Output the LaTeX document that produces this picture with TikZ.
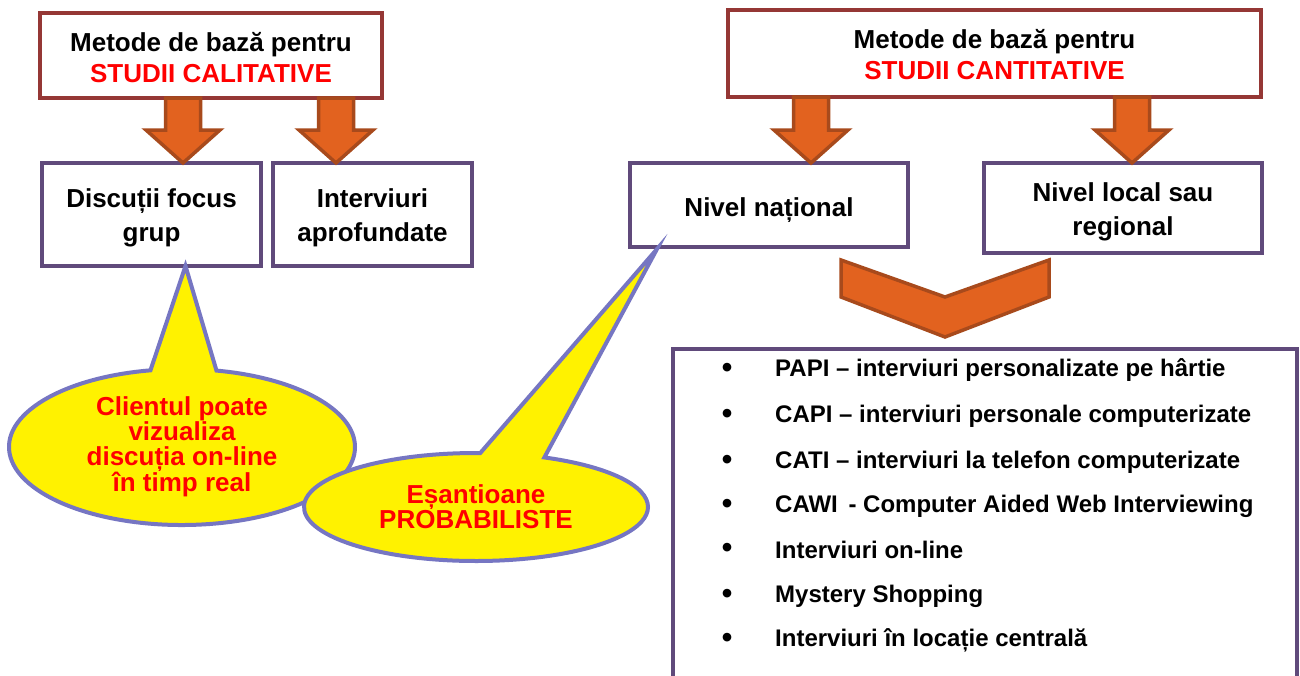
\documentclass[tikz,border=0pt]{standalone}
\usepackage{fontspec}
\setmainfont{Liberation Sans}
\usetikzlibrary{shapes.callouts,calc}
\definecolor{titleborder}{HTML}{953735}
\definecolor{boxborder}{HTML}{604A7B}
\definecolor{arrowfill}{HTML}{E2621F}
\definecolor{arrowborder}{HTML}{A84A1C}
\definecolor{calloutborder}{HTML}{7676C2}
\definecolor{txtred}{HTML}{FF0000}
\newcommand\downblock[2]{%
  \draw[blockarrow] let \p1=#1, \p2=#2 in
    (\x1-17.5pt,\y1) -- (\x1+17.5pt,\y1) -- (\x1+17.5pt,\y2+33pt) -- (\x1+37pt,\y2+33pt)
    -- (\x1,\y2) -- (\x1-37pt,\y2+33pt) -- (\x1-17.5pt,\y2+33pt) -- cycle;}
\begin{document}
\begin{tikzpicture}[x=1pt,y=-1pt,
  titlebox/.style={draw=titleborder,line width=4pt,fill=white,inner sep=0pt,outer sep=0pt},
  levelbox/.style={draw=boxborder,line width=4pt,fill=white,inner sep=0pt,outer sep=0pt},
  titletext/.style={inner sep=0pt,align=center,font=\fontsize{26}{31}\selectfont\bfseries},
  leveltext/.style={inner sep=0pt,align=center,font=\fontsize{26}{34}\selectfont\bfseries},
  blockarrow/.style={draw=arrowborder,fill=arrowfill,line width=3.5pt,line join=miter},
  bubble/.style={ellipse callout,draw=calloutborder,line width=4pt,fill=yellow,text=txtred,inner sep=0pt,outer sep=0pt,align=center,callout pointer arc=22,font=\fontsize{26}{25}\selectfont\bfseries},
  bulletdot/.style={inner sep=0pt,font=\fontsize{30}{30}\selectfont\bfseries},
  itemtext/.style={anchor=west,inner sep=0pt,font=\fontsize{24}{28}\selectfont\bfseries}]
\clip (0,0) rectangle (1300,675);
\fill[white] (0,0) rectangle (1300,675);

% title boxes
\node[titlebox,minimum width=342,minimum height=85] (A) at (211,55.5) {};
\node[titletext] (At) at ($(A.center)+(0,2)$) {Metode de bază pentru\\ \textcolor{txtred}{STUDII CALITATIVE}};
\node[titlebox,minimum width=533,minimum height=87] (D) at (994.5,53.5) {};
\node[titletext] (Dt) at ($(D.center)+(0,1.5)$) {Metode de bază pentru\\ \textcolor{txtred}{STUDII CANTITATIVE}};

% level boxes
\node[levelbox,minimum width=219,minimum height=103] (B) at (151.5,214.5) {};
\node[leveltext] (Bt) at ($(B.center)+(0,3)$) {Discuții focus\\ grup};
\node[levelbox,minimum width=199,minimum height=103] (C) at (372.5,214.5) {};
\node[leveltext] (Ct) at ($(C.center)+(0,3)$) {Interviuri\\ aprofundate};
\node[levelbox,minimum width=278,minimum height=84] (E) at (769,205) {};
\node[leveltext] (Et) at ($(E.center)+(0,5)$) {Nivel național};
\node[levelbox,minimum width=278,minimum height=90] (F) at (1123,208) {};
\node[leveltext] (Ft) at ($(F.center)+(0,4)$) {Nivel local sau\\ regional};

% block arrows
\downblock{(183,0 |- A.south)}{(183,0 |- B.north)}
\downblock{(336,0 |- A.south)}{(336,0 |- C.north)}
\downblock{(811,0 |- D.south)}{(811,0 |- E.north)}
\downblock{(1132,0 |- D.south)}{(1132,0 |- F.north)}

% chevron
\draw[blockarrow] (841,260) -- (945,297) -- (1049,260) -- (1049,297) -- (945,337) -- (841,297) -- cycle;

% list box
\node[draw=boxborder,line width=4pt,fill=white,inner sep=0pt,outer sep=0pt,anchor=north west,
  minimum width=624,minimum height=360] (G) at (673,349) {};
\foreach \i/\yy/\txt in {1/369/{PAPI – interviuri personalizate pe hârtie},
  2/415/{CAPI – interviuri personale computerizate},
  3/461/{CATI – interviuri la telefon computerizate},
  4/505/{CAWI\, - Computer Aided Web Interviewing},
  5/549/{Interviuri on-line},
  6/595/{Mystery Shopping},
  7/639/{Interviuri în locație centrală}}{
  \node[bulletdot] (b\i) at (727,\yy+1) {•};
  \node[itemtext] (t\i) at (775,\yy+1) {\txt};
}

% callouts
\node[bubble,minimum width=346,minimum height=156,
  callout absolute pointer={([xshift=34pt]B.south)}] (K1) at (182,447)
  {Clientul poate\\ vizualiza\\ discuția on-line\\ în timp real};
\node[bubble,minimum width=344,minimum height=108,
  callout absolute pointer={([xshift=27pt,yshift=-2pt]E.south west)}] (K2) at (476,507)
  {Eșantioane\\ PROBABILISTE};
\end{tikzpicture}
\end{document}
